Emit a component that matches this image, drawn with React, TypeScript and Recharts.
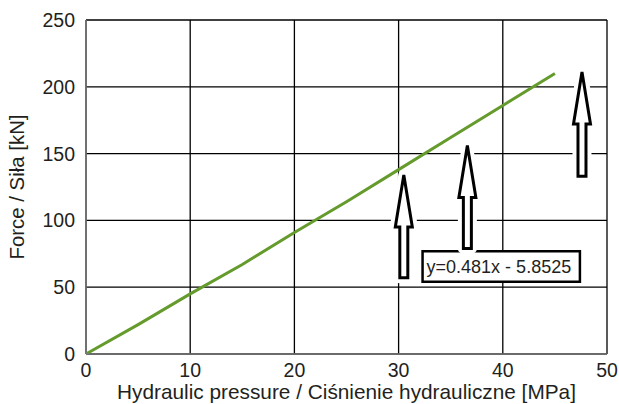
import { ComposedChart, Line, XAxis, YAxis, CartesianGrid, ReferenceLine, ReferenceArea } from 'recharts';

// hydraulic pressure [MPa] vs force [kN]
const pressure = [0, 5, 10, 15, 20, 25, 30, 35, 40, 45];
const force = [0, 22, 45, 67, 91, 114, 138, 162, 186, 210];

const xTicks = [0, 10, 20, 30, 40, 50];
const yTicks = [0, 50, 100, 150, 200, 250];

// arrows: x position, tip value, tail value
const arrowX = [30.5, 36.6, 47.6];
const arrowTip = [134, 156, 211];
const arrowTail = [57, 79, 133];

const equation = 'y=0.481x - 5.8525';
const boxX = [32.3, 47.4];
const boxY = [54, 77];

const data = pressure.map((p, i) => ({ p, f: force[i] }));

const FONT = '"Liberation Sans", Arial, sans-serif';
const INK = '#231f20';

function Arrow(props: any) {
  const { x1, y1, y2 } = props;
  const tipY = Math.min(y1, y2);
  const tailY = Math.max(y1, y2);
  const cx = x1;
  const head = 52;
  const hw = 8.5;
  const sw = 4;
  const pts = [
    [cx, tipY],
    [cx + hw, tipY + head],
    [cx + sw, tipY + head],
    [cx + sw, tailY],
    [cx - sw, tailY],
    [cx - sw, tipY + head],
    [cx - hw, tipY + head],
  ]
    .map((q) => q.join(','))
    .join(' ');
  return (
    <g>
      <polygon points={pts} fill="#fff" stroke="#fff" strokeWidth={11} strokeLinejoin="round" />
      <polygon points={pts} fill="#fff" stroke="#000" strokeWidth={3} strokeLinejoin="miter" />
    </g>
  );
}

export default function App() {
  return (
    <div style={{ position: 'absolute', left: 0, top: 0, background: '#fff' }}>
      <ComposedChart width={619} height={404} data={data} margin={{ top: 20, right: 12, bottom: 0, left: 0 }}>
        <CartesianGrid stroke="#000" strokeWidth={1.3} horizontalValues={yTicks} verticalValues={xTicks} />
        <XAxis
          dataKey="p"
          type="number"
          domain={[0, 50]}
          ticks={xTicks}
          height={50}
          tickLine={false}
          tickMargin={3}
          axisLine={{ stroke: '#7a7a7a', strokeWidth: 1.5 }}
          tick={{ fill: INK, fontSize: 19.5, fontFamily: FONT }}
          label={{ value: 'Hydraulic pressure / Ciśnienie hydrauliczne [MPa]', position: 'insideBottom', offset: 5, fill: INK, fontSize: 20.8, fontFamily: FONT }}
        />
        <YAxis
          type="number"
          domain={[0, 250]}
          ticks={yTicks}
          width={86}
          tickLine={false}
          tickMargin={5}
          axisLine={{ stroke: '#7a7a7a', strokeWidth: 1.5 }}
          tick={{ fill: INK, fontSize: 19.5, fontFamily: FONT }}
          label={{ value: 'Force / Siła [kN]', angle: -90, position: 'center', dx: -26, fill: INK, fontSize: 20.4, fontFamily: FONT }}
        />
        {arrowX.map((x, i) => (
          <ReferenceLine
            key={i}
            segment={[
              { x, y: arrowTip[i] },
              { x, y: arrowTail[i] },
            ]}
            ifOverflow="visible"
            shape={Arrow}
          />
        ))}
        <Line dataKey="f" stroke="#659b2d" strokeWidth={3} dot={false} isAnimationActive={false} />
        <ReferenceArea
          x1={boxX[0]}
          x2={boxX[1]}
          y1={boxY[0]}
          y2={boxY[1]}
          ifOverflow="visible"
          fill="#fff"
          fillOpacity={1}
          stroke="#000"
          strokeWidth={2.5}
          label={{ value: equation, position: 'insideLeft', offset: 4, fill: INK, fontSize: 18, fontFamily: FONT }}
        />
      </ComposedChart>
    </div>
  );
}
